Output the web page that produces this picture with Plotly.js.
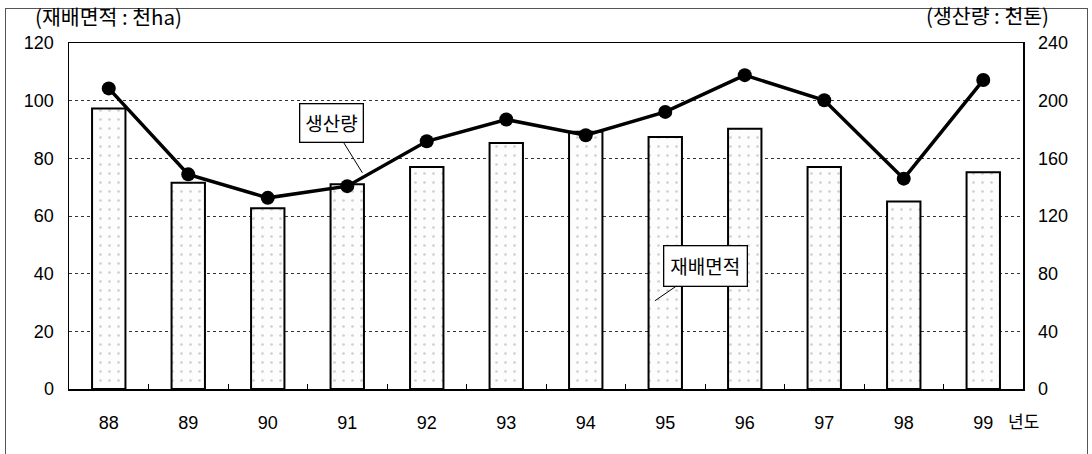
<!DOCTYPE html>
<html>
<head>
<meta charset="utf-8">
<script src="https://cdn.plot.ly/plotly-3.0.1.min.js"></script>
<style>
  html, body { margin: 0; padding: 0; background: #fff; overflow: hidden; }
  #frame { position: absolute; left: 5px; top: 8px; width: 1081px; height: 470px; border: 1px solid #555; }
  #chart { position: absolute; left: 0; top: 0; width: 1092px; height: 454px; }
</style>
</head>
<body>
<div id="frame"></div>
<div id="chart"></div>
<script>
const years = ['88', '89', '90', '91', '92', '93', '94', '95', '96', '97', '98', '99'];
const area = [97.3, 71.5, 62.7, 71.0, 77.0, 85.3, 89.2, 87.4, 90.3, 77.0, 65.0, 75.2];
const production = [208.5, 148.9, 132.6, 140.7, 171.8, 186.9, 176.0, 192.2, 217.7, 200.3, 145.9, 214.3];
const leftTicks = [0, 20, 40, 60, 80, 100, 120];
const rightTicks = [0, 40, 80, 120, 160, 200, 240];

const numFont = { family: 'Liberation Sans, Arial, sans-serif', size: 18, color: '#000' };
const krFont = { family: 'Noto Sans CJK KR, sans-serif', size: 17, color: '#000' };
const calloutFont = { family: 'Noto Sans CJK KR, sans-serif', size: 19, color: '#000' };
const unitFont = { family: 'Noto Sans CJK KR, sans-serif', size: 20.5, color: '#000' };

const bars = {
  type: 'bar', x: years, y: area, name: '재배면적', yaxis: 'y', width: 0.42,
  marker: { color: '#fdfdfd', line: { color: '#000', width: 2 },
            pattern: { shape: '.', fgcolor: '#cfcfcf', bgcolor: '#fdfdfd', size: 9, solidity: 0.07 } },
  hoverinfo: 'x+y'
};
const line = {
  type: 'scatter', mode: 'lines+markers', x: years, y: production, name: '생산량', yaxis: 'y2',
  line: { color: '#000', width: 3.5 }, marker: { color: '#000', size: 14 }
};

const layout = {
  width: 1092, height: 454,
  margin: { l: 69, r: 69, t: 43, b: 65 },
  paper_bgcolor: 'rgba(0,0,0,0)', plot_bgcolor: '#fff',
  showlegend: false,
  xaxis: {
    type: 'category', range: [-0.5, 11.5], autorange: false, tickvals: years, ticktext: years,
    showline: true, linecolor: '#000', linewidth: 1.5, mirror: true,
    ticks: 'inside', tickson: 'boundaries', ticklen: 5, tickcolor: '#000',
    ticklabelstandoff: 17, tickfont: numFont, showgrid: false
  },
  yaxis: {
    range: [0, 120], autorange: false, tickvals: leftTicks, ticktext: leftTicks.map(String),
    showline: true, linecolor: '#000', linewidth: 1.5, mirror: true,
    showgrid: true, gridcolor: '#333', griddash: 'dot', gridwidth: 1,
    ticks: '', ticklabelstandoff: 10, tickfont: numFont, zeroline: false
  },
  yaxis2: {
    range: [0, 240], autorange: false, tickvals: rightTicks, ticktext: rightTicks.map(String),
    overlaying: 'y', side: 'right', showgrid: false, zeroline: false,
    ticks: '', ticklabelstandoff: 14, tickfont: numFont
  },
  annotations: [
    { text: '(재배면적 : 천ha)', xref: 'paper', yref: 'paper', x: -0.038, y: 1.078, xanchor: 'left', yanchor: 'middle', showarrow: false, font: unitFont },
    { text: '(생산량 : 천톤)', xref: 'paper', yref: 'paper', x: 1.029, y: 1.082, xanchor: 'right', yanchor: 'middle', showarrow: false, font: unitFont },
    { text: '년도', xref: 'paper', yref: 'paper', x: 0.982, y: -0.09, xanchor: 'left', yanchor: 'middle', showarrow: false, font: krFont },
    { text: '생산량', xref: 'x', yref: 'y2', x: 3.19, y: 150, axref: 'pixel', ayref: 'pixel', ax: -31, ay: -50,
      showarrow: true, arrowhead: 0, arrowwidth: 1, arrowcolor: '#000',
      bgcolor: '#fff', bordercolor: '#000', borderwidth: 1.3, borderpad: 5, font: calloutFont },
    { text: '재배면적', xref: 'x', yref: 'y', x: 6.87, y: 30.6, axref: 'pixel', ayref: 'pixel', ax: 51, ay: -35,
      showarrow: true, arrowhead: 0, arrowwidth: 1, arrowcolor: '#000',
      bgcolor: '#fff', bordercolor: '#000', borderwidth: 1.3, borderpad: 6, font: calloutFont }
  ]
};

Plotly.newPlot('chart', [bars, line], layout, { displayModeBar: false, staticPlot: true });
</script>
</body>
</html>
